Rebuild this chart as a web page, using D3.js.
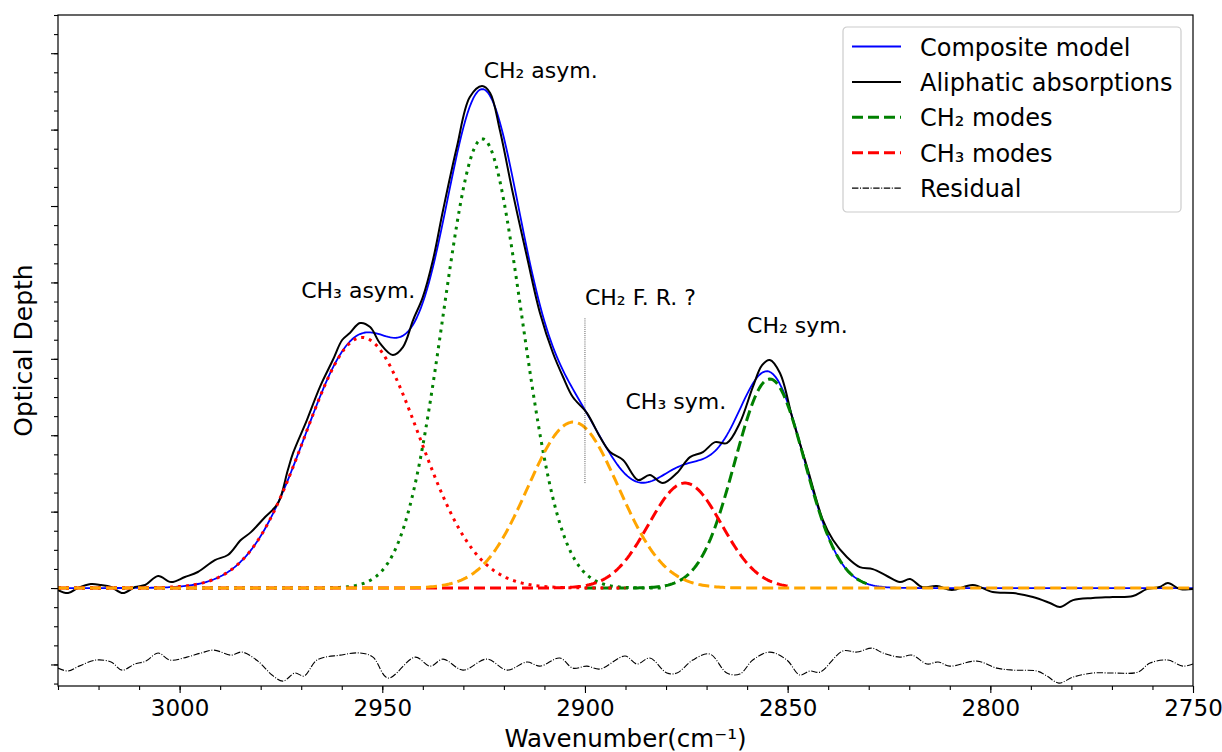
<!DOCTYPE html>
<html>
<head>
<meta charset="utf-8">
<script src="https://cdn.jsdelivr.net/npm/d3@7"></script>
<style>
  body { margin: 0; background: #fff; }
  svg { display: block; font-family: "DejaVu Sans", sans-serif; }
</style>
</head>
<body>
<div id="chart"></div>
<script>
//DATA
// observed aliphatic absorption (wavenumber, optical depth), read from the picture
const obsWn = [3030.0, 3027.5, 3025.1, 3021.9, 3019.4, 3016.9, 3014.0, 3011.0, 3008.5, 3005.3,
  3002.1, 2998.7, 2995.5, 2991.3, 2988.1, 2984.9, 2982.4, 2978.9, 2975.7, 2973.3,
  2972.0, 2968.6, 2965.4, 2962.2, 2959.9, 2958.0, 2955.5, 2953.0, 2950.6, 2947.4,
  2944.9, 2942.4, 2940.0, 2937.5, 2935.0, 2931.6, 2928.4, 2925.4, 2923.4, 2921.0,
  2917.8, 2914.3, 2911.1, 2907.9, 2905.4, 2903.0, 2899.5, 2896.3, 2893.8, 2890.6,
  2886.9, 2884.0, 2880.8, 2877.3, 2874.1, 2870.9, 2867.9, 2865.0, 2861.8, 2858.6,
  2856.3, 2854.4, 2851.9, 2848.7, 2845.2, 2841.3, 2838.8, 2835.4, 2832.2, 2829.0,
  2825.5, 2822.3, 2819.8, 2816.9, 2813.2, 2809.5, 2804.3, 2799.4, 2794.4, 2789.5,
  2785.3, 2782.8, 2779.6, 2774.7, 2769.8, 2764.8, 2761.4, 2758.2, 2756.2, 2753.2, 2750.0];
const obsDepth = [-0.0013, -0.0033, 0.0000, 0.0026, 0.0020, 0.0007, -0.0033, 0.0007, 0.0020, 0.0079,
  0.0039, 0.0072, 0.0105, 0.0183, 0.0216, 0.0314, 0.0366, 0.0465, 0.0556, 0.0772,
  0.0884, 0.1099, 0.1315, 0.1492, 0.1623, 0.1669, 0.1734, 0.1708, 0.1603, 0.1525,
  0.1577, 0.1754, 0.1904, 0.2147, 0.2474, 0.2886, 0.3213, 0.3285, 0.3240, 0.2997,
  0.2585, 0.2166, 0.1800, 0.1538, 0.1381, 0.1250, 0.1145, 0.0988, 0.0890, 0.0838,
  0.0707, 0.0740, 0.0687, 0.0753, 0.0857, 0.0890, 0.0955, 0.0949, 0.1080, 0.1315,
  0.1459, 0.1492, 0.1407, 0.1099, 0.0792, 0.0445, 0.0314, 0.0203, 0.0137, 0.0124,
  0.0079, 0.0039, 0.0059, 0.0007, 0.0013, -0.0013, 0.0020, -0.0026, -0.0033, -0.0059,
  -0.0098, -0.0124, -0.0079, -0.0065, -0.0059, -0.0052, -0.0007, 0.0007, 0.0033, -0.0007, -0.0007];

// residual, drawn below the baseline
const resWn = [3030.0, 3027.5, 3024.8, 3020.6, 3016.9, 3014.2, 3011.0, 3008.3, 3005.3, 3002.4,
  2998.2, 2994.7, 2991.5, 2987.3, 2984.6, 2980.7, 2977.2, 2974.5, 2971.5, 2969.3,
  2966.1, 2960.4, 2955.5, 2952.3, 2948.6, 2941.9, 2938.2, 2935.0, 2930.1, 2924.2,
  2919.2, 2914.3, 2911.1, 2906.2, 2903.0, 2899.5, 2896.3, 2890.1, 2887.2, 2884.0,
  2879.8, 2877.3, 2873.4, 2869.2, 2865.0, 2861.8, 2858.6, 2854.4, 2850.2, 2847.0,
  2844.5, 2842.0, 2836.4, 2832.9, 2829.2, 2826.5, 2822.3, 2819.3, 2815.6, 2812.9,
  2810.0, 2803.3, 2798.4, 2794.4, 2788.5, 2786.0, 2783.1, 2779.6, 2774.7, 2769.8,
  2763.6, 2760.6, 2756.2, 2752.5, 2750.0];
const resDepth = [-0.0524, -0.0543, -0.0511, -0.0471, -0.0484, -0.0537, -0.0497, -0.0478, -0.0425, -0.0471,
  -0.0452, -0.0425, -0.0406, -0.0439, -0.0419, -0.0478, -0.0569, -0.0609, -0.0556, -0.0576,
  -0.0471, -0.0439, -0.0425, -0.0452, -0.0589, -0.0452, -0.0511, -0.0465, -0.0537, -0.0465,
  -0.0537, -0.0484, -0.0511, -0.0458, -0.0524, -0.0511, -0.0530, -0.0445, -0.0497, -0.0458,
  -0.0556, -0.0556, -0.0471, -0.0432, -0.0556, -0.0563, -0.0471, -0.0419, -0.0471, -0.0569,
  -0.0543, -0.0550, -0.0412, -0.0419, -0.0393, -0.0425, -0.0452, -0.0439, -0.0497, -0.0484,
  -0.0511, -0.0478, -0.0524, -0.0537, -0.0543, -0.0576, -0.0622, -0.0583, -0.0556, -0.0556,
  -0.0550, -0.0491, -0.0471, -0.0511, -0.0497];

// gaussian components of the fit
const peakNames   = ["CH3 asym.", "CH2 asym.", "CH2 F. R.", "CH3 sym.", "CH2 sym."];
const peakCenters = [2955.0, 2925.3, 2902.9, 2875.3, 2854.4];
const peakHeights = [0.164, 0.294, 0.1086, 0.0687, 0.1368];
const peakSigmas  = [14.1, 9.7, 11.2, 9.0, 8.6];
const peakFrom    = [3030, 3030, 3030, 3030, 2900];
const peakTo      = [2890, 2880, 2750, 2850, 2830];

// annotations
const noteTexts = ["CH₃ asym.", "CH₂ asym.", "CH₂ F. R. ?", "CH₃ sym.", "CH₂ sym."];
const noteWn    = [2970, 2925, 2900, 2890, 2860];
const noteDepth = [0.190, 0.334, 0.185, 0.117, 0.167];
const frMarker  = { wn: 2900, lo: 0.0687, hi: 0.177 };

const xTicks = [3000, 2950, 2900, 2850, 2800, 2750];
const legendLabels = ["Composite model", "Aliphatic absorptions", "CH₂ modes", "CH₃ modes", "Residual"];

//STYLES
const STY = {
  composite: { stroke: "#0000ff", width: 1.8, dash: null },
  observed:  { stroke: "#000000", width: 2, dash: null },
  ch2dot:    { stroke: "#008000", width: 3, dash: "3,5" },
  ch2dash:   { stroke: "#008000", width: 3, dash: "11,5" },
  ch3dot:    { stroke: "#ff0000", width: 3, dash: "3,5" },
  ch3dash:   { stroke: "#ff0000", width: 3, dash: "11,5" },
  fr:        { stroke: "#ffa500", width: 3, dash: "11,5" },
  residual:  { stroke: "#000000", width: 1.1, dash: "6.4,1.6,1,1.6" }
};
const peakStyle = [STY.ch3dot, STY.ch2dot, STY.fr, STY.ch3dash, STY.ch2dash];

//INIT
const width = 1222, height = 752;
const M = { left: 58, right: 29, top: 15, bottom: 66 };

const svg = d3.select("#chart").append("svg")
  .attr("width", width).attr("height", height);

const x = d3.scaleLinear().domain([3030, 2750]).range([M.left, width - M.right]);
const y = d3.scaleLinear().domain([-0.0641, 0.375]).range([height - M.bottom, M.top]);

svg.append("defs").append("clipPath").attr("id", "plot")
  .append("rect")
  .attr("x", M.left).attr("y", M.top)
  .attr("width", width - M.left - M.right)
  .attr("height", height - M.top - M.bottom);

const gauss = (wn, i) => peakHeights[i] * Math.exp(-0.5 * ((wn - peakCenters[i]) / peakSigmas[i]) ** 2);
const sampleGrid = (a, b) => d3.range(a, b - 0.001, -0.5);

const line = d3.line().x(d => x(d[0])).y(d => y(d[1]));
const smooth = d3.line().x(d => x(d[0])).y(d => y(d[1])).curve(d3.curveCatmullRom.alpha(0.5));

const plot = svg.append("g").attr("clip-path", "url(#plot)");

function drawPath(pts, st, gen) {
  plot.append("path")
    .attr("d", (gen || line)(pts))
    .attr("fill", "none")
    .attr("stroke", st.stroke)
    .attr("stroke-width", st.width)
    .attr("stroke-dasharray", st.dash)
    .attr("stroke-linejoin", "round");
}
const component = i => sampleGrid(peakFrom[i], peakTo[i]).map(w => [w, gauss(w, i)]);

//COMPOSITE
const composite = sampleGrid(3030, 2750).map(w => [w, d3.sum(peakCenters, (_, i) => gauss(w, i))]);
drawPath(composite, STY.composite);

//OBSERVED
drawPath(obsWn.map((w, i) => [w, obsDepth[i]]), STY.observed, smooth);

//COMPONENTS
[1, 4, 0, 3].forEach(i => drawPath(component(i), peakStyle[i]));

//RESIDUAL
drawPath(resWn.map((w, i) => [w, resDepth[i]]), STY.residual, smooth);

// orange F.R. component last, it sits on top at the baseline
drawPath(component(2), peakStyle[2]);

//F.R. MARKER
svg.append("line")
  .attr("x1", x(frMarker.wn)).attr("x2", x(frMarker.wn))
  .attr("y1", y(frMarker.lo)).attr("y2", y(frMarker.hi))
  .attr("stroke", "#000").attr("stroke-width", 0.8)
  .attr("stroke-dasharray", "0.8,1.3");

//ANNOTATIONS
svg.append("g").selectAll("text")
  .data(noteTexts)
  .enter().append("text")
  .attr("x", (d, i) => x(noteWn[i]))
  .attr("y", (d, i) => y(noteDepth[i]))
  .attr("font-size", "22px")
  .attr("fill", "#000")
  .text(d => d);

//AXES
const xAxis = svg.append("g")
  .attr("transform", `translate(0,${height - M.bottom})`)
  .call(d3.axisBottom(x).tickValues(xTicks).tickFormat(d3.format("d"))
    .tickSize(7).tickSizeOuter(0).tickPadding(7));
svg.append("g")
  .attr("transform", `translate(0,${height - M.bottom})`)
  .call(d3.axisBottom(x).tickValues(d3.range(3030, 2749, -10)).tickFormat("")
    .tickSize(4).tickSizeOuter(0));

svg.append("g")
  .attr("transform", `translate(${M.left},0)`)
  .call(d3.axisLeft(y).tickValues(d3.range(-0.05, 0.3501, 0.05)).tickFormat("")
    .tickSize(7).tickSizeOuter(0));
svg.append("g")
  .attr("transform", `translate(${M.left},0)`)
  .call(d3.axisLeft(y).tickValues(d3.range(-0.0625, 0.3751, 0.0125)).tickFormat("")
    .tickSize(4).tickSizeOuter(0));

svg.selectAll(".domain").remove();
svg.selectAll(".tick line").attr("stroke", "#000").attr("stroke-width", 1.1);
xAxis.selectAll(".tick text")
  .attr("font-size", "23px")
  .attr("font-family", "DejaVu Sans")
  .attr("fill", "#000");

svg.append("rect")
  .attr("x", M.left).attr("y", M.top)
  .attr("width", width - M.left - M.right)
  .attr("height", height - M.top - M.bottom)
  .attr("fill", "none").attr("stroke", "#000").attr("stroke-width", 1.2);

//LABELS
svg.append("text")
  .attr("x", (M.left + width - M.right) / 2)
  .attr("y", 747)
  .attr("text-anchor", "middle")
  .attr("font-size", "24.5px")
  .text("Wavenumber(cm⁻¹)");

svg.append("text")
  .attr("transform", `translate(32,${(M.top + height - M.bottom) / 2}) rotate(-90)`)
  .attr("text-anchor", "middle")
  .attr("font-size", "25px")
  .text("Optical Depth");

//LEGEND
const leg = svg.append("g").attr("transform", "translate(843,27)");
leg.append("rect")
  .attr("width", 338).attr("height", 185).attr("rx", 4)
  .attr("fill", "#fff").attr("fill-opacity", 0.8)
  .attr("stroke", "#cccccc").attr("stroke-width", 1.2);

const legStyles = [STY.composite, STY.observed, STY.ch2dash, STY.ch3dash, STY.residual];
legendLabels.forEach((lab, i) => {
  const cy = 19.5 + i * 35.4;
  leg.append("line")
    .attr("x1", 9).attr("x2", 58).attr("y1", cy).attr("y2", cy)
    .attr("stroke", legStyles[i].stroke)
    .attr("stroke-width", i < 2 ? 2 : legStyles[i].width)
    .attr("stroke-dasharray", legStyles[i].dash);
  leg.append("text")
    .attr("x", 77).attr("y", cy + 9)
    .attr("font-size", "24px")
    .text(lab);
});
</script>
</body>
</html>
